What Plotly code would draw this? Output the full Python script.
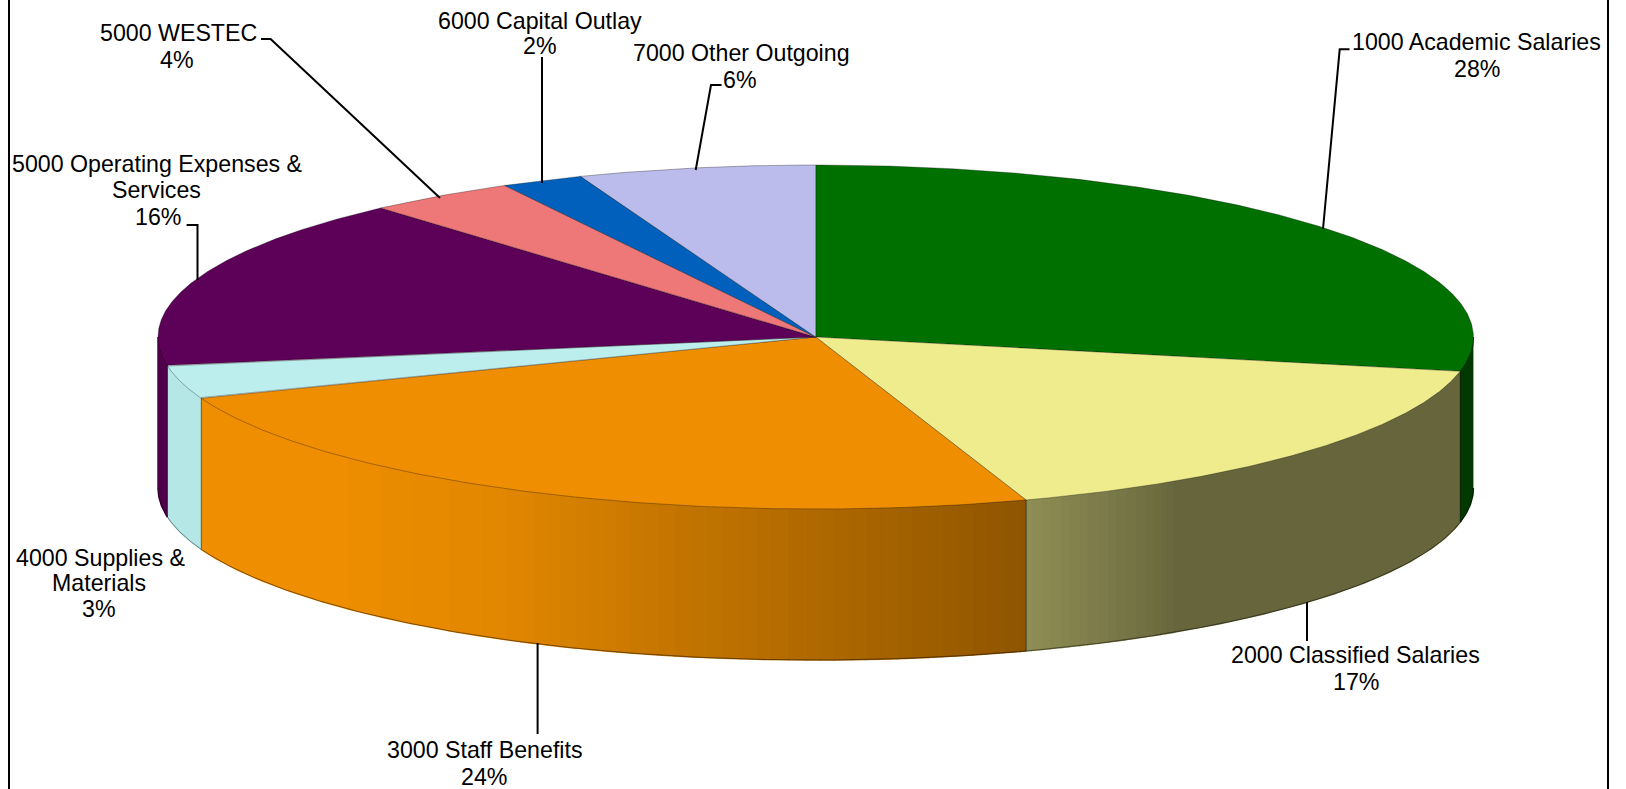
import numpy as np
import plotly.graph_objects as go

# ---- data ----
categories = ["1000 Academic Salaries", "2000 Classified Salaries", "3000 Staff Benefits",
              "4000 Supplies & Materials", "5000 Operating Expenses & Services",
              "5000 WESTEC", "6000 Capital Outlay", "7000 Other Outgoing"]
values = [28.2, 16.62, 24.38, 3.1, 16.2, 3.66, 2.02, 5.82]

# ---- styles ----
top_colors = ["#007000", "#EEEC8C", "#EE8E00", "#BCEEEE", "#5C0058", "#EE7777", "#0060BC", "#BCBCEC"]
FONT = "Liberation Sans, Arial, sans-serif"
FONT_SIZE = 23.2
TEXT_DY = 0.7
W, H = 1626, 789
CX, CY, RX, RY, DEPTH = 815.7, 337.0, 657.7, 172.0, 151.0

# wall shading against horizontal position, per slice
orange_shade = ([330, 500, 650, 813, 1027], [1.0, 0.95, 0.84, 0.74, 0.60])
yellow_shade = ([1027, 1150, 1176], [0.60, 0.47, 0.43])
wall_shade = {0: ([0, W], [0.5, 0.5]), 1: yellow_shade, 2: orange_shade,
              3: ([0, W], [0.97, 0.97]), 4: ([0, W], [0.85, 0.85])}

# label lines: which category each belongs to, centre position of each text line
label_layout = [
    (0, [("1000 Academic Salaries", 1476, 41.5), ("{p}", 1476.5, 68.5)]),
    (1, [("2000 Classified Salaries", 1355, 654.5), ("{p}", 1356, 681)]),
    (2, [("3000 Staff Benefits", 484.5, 749), ("{p}", 484, 776)]),
    (3, [("4000 Supplies &", 100, 557), ("Materials", 99, 582), ("{p}", 99, 608.5)]),
    (4, [("5000 Operating Expenses &", 157.6, 163), ("Services", 156.6, 189), ("{p}", 158, 216)]),
    (5, [("5000 WESTEC", 178, 32), ("{p}", 177, 59)]),
    (6, [("6000 Capital Outlay", 540, 20), ("{p}", 540, 45)]),
    (7, [("7000 Other Outgoing", 741, 52), ("{p}", 740, 79)]),
]
leaders = [
    [(1349.5, 49.3), (1339.7, 49.3), (1323, 229)],
    [(1307, 602), (1307, 641)],
    [(537.6, 643), (537.6, 734)],
    [(186.6, 225), (197.5, 225), (197.5, 280)],
    [(261, 39), (270.6, 39), (440, 198)],
    [(542, 57), (542, 183)],
    [(721.6, 85), (711, 85), (695.7, 170)],
]
frame_x = [9, 1608]


def ex(t):
    return CX + RX * np.sin(t)


def ey(t):
    return CY - RY * np.cos(t)


def shaded(hex_color, f):
    r, g, b = (int(hex_color[i:i + 2], 16) for i in (1, 3, 5))
    return f"rgb({round(r * f)},{round(g * f)},{round(b * f)})"


fig = go.Figure()


def poly(xs, ys, fill, line_color, width=1.0):
    fig.add_trace(go.Scatter(x=list(xs), y=list(ys), mode="lines", fill="toself", fillcolor=fill,
                             line=dict(color=line_color, width=width), hoverinfo="skip"))


fractions = np.cumsum([0.0] + values) / sum(values)
angles = fractions * 2 * np.pi

# walls: only the front half of the disc (90deg to 270deg from the top) is seen
for i, colour in enumerate(top_colors):
    a0, a1 = max(angles[i], np.pi / 2), min(angles[i + 1], 3 * np.pi / 2)
    if a1 <= a0:
        continue
    grid = np.linspace(a0, a1, max(3, int((a1 - a0) / np.radians(0.25)) + 1))
    xp, fp = wall_shade[i]
    mids = (grid[:-1] + grid[1:]) / 2
    levels = np.round(np.interp(ex(mids), xp, fp) * 100) / 100
    start = 0
    for k in range(1, len(levels) + 1):
        if k == len(levels) or levels[k] != levels[start]:
            seg = grid[start:k + 1]
            c = shaded(colour, levels[start])
            poly(np.r_[ex(seg), ex(seg[::-1])], np.r_[ey(seg), ey(seg[::-1]) + DEPTH], c, c, 1.5)
            start = k
    # bottom rim and dividing edges
    rim = np.linspace(a0, a1, 200)
    fig.add_trace(go.Scatter(x=ex(rim), y=ey(rim) + DEPTH, mode="lines",
                             line=dict(color="rgba(0,0,0,0.45)", width=1), hoverinfo="skip"))
    for a in (a0, a1):
        if np.pi / 2 < a < 3 * np.pi / 2:
            fig.add_trace(go.Scatter(x=[ex(a), ex(a)], y=[ey(a), ey(a) + DEPTH], mode="lines",
                                     line=dict(color="rgba(0,0,0,0.35)", width=1), hoverinfo="skip"))

# top faces
for i, colour in enumerate(top_colors):
    arc = np.linspace(angles[i], angles[i + 1], 240)
    poly(np.r_[CX, ex(arc), CX], np.r_[CY, ey(arc), CY], colour, "rgba(0,0,0,0.3)", 1.0)

# leader lines
for pts in leaders:
    fig.add_trace(go.Scatter(x=[p[0] for p in pts], y=[p[1] for p in pts], mode="lines",
                             line=dict(color="black", width=2), hoverinfo="skip"))

# frame
for x in frame_x:
    fig.add_shape(type="line", x0=x, x1=x, y0=0, y1=H, line=dict(color="black", width=2))

# labels
for idx, lines in label_layout:
    pct = f"{round(values[idx])}%"
    for text, x, y in lines:
        fig.add_annotation(x=x, y=y + TEXT_DY, text=text.replace("{p}", pct), showarrow=False,
                           xanchor="center", yanchor="middle",
                           font=dict(family=FONT, size=FONT_SIZE, color="black"))

fig.update_layout(width=W, height=H, margin=dict(l=0, r=0, t=0, b=0), showlegend=False,
                  paper_bgcolor="white", plot_bgcolor="white", hovermode=False,
                  xaxis=dict(range=[0, W], visible=False, fixedrange=True),
                  yaxis=dict(range=[H, 0], visible=False, fixedrange=True))
fig.write_html("out.html", config=dict(displayModeBar=False),
               post_script="document.body.style.margin='0';document.body.style.overflow='hidden';")
